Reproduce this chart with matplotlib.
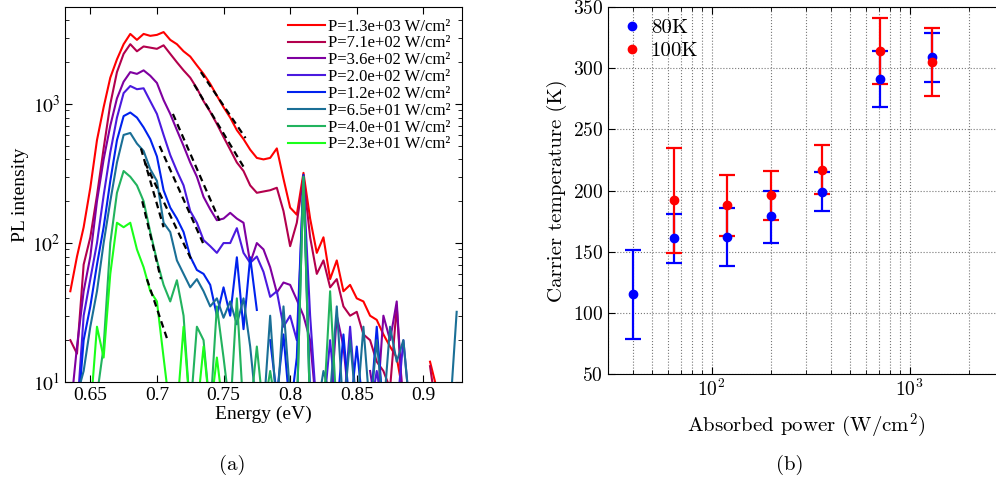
import numpy as np
import matplotlib.pyplot as plt
from matplotlib.ticker import NullFormatter, LogLocator
from matplotlib.lines import Line2D

plt.rcParams['axes.formatter.use_mathtext'] = True
plt.rcParams['mathtext.fontset'] = 'cm'

n = np.nan

# ---- (a) PL spectra ----
energy = [0.635, 0.640, 0.645, 0.650, 0.655, 0.660, 0.665, 0.670, 0.675, 0.680,
          0.685, 0.690, 0.695, 0.700, 0.705, 0.710, 0.715, 0.720, 0.725, 0.730,
          0.735, 0.740, 0.745, 0.750, 0.755, 0.760, 0.765, 0.770, 0.775, 0.780,
          0.785, 0.790, 0.795, 0.800, 0.805, 0.810, 0.815, 0.820, 0.825, 0.830,
          0.835, 0.840, 0.845, 0.850, 0.855, 0.860, 0.865, 0.870, 0.875, 0.880,
          0.885, 0.890, 0.895, 0.900, 0.905, 0.910, 0.915, 0.920, 0.925]

pl_1300 = [45, 80, 130, 250, 550, 950, 1550, 2100, 2700, 3200,
           2900, 3200, 3100, 3150, 3300, 2900, 2700, 2400, 2200, 1900,
           1650, 1400, 1150, 950, 800, 650, 560, 470, 410, 400,
           410, 480, 290, 180, 160, 320, 150, 85, 110, 55,
           75, 45, 50, 40, 38, 30, 28, 22, 18, 15,
           8, 6, n, n, 14, 9, n, n, n]
pl_710 = [20, 16, 70, 110, 220, 480, 1000, 1700, 2300, 2700,
          2400, 2600, 2550, 2500, 2650, 2300, 2000, 1750, 1550, 1300,
          1050, 880, 720, 580, 470, 380, 330, 260, 230, 235,
          240, 250, 170, 95, 140, 300, 110, 60, 75, 48,
          55, 35, 30, 32, 22, 20, 14, 12, 9, 35,
          6, n, n, n, 13, 6, n, n, n]
pl_360 = [6, 18, 45, 80, 200, 400, 700, 1100, 1450, 1700,
          1650, 1750, 1600, 1420, 1070, 850, 650, 500, 380, 300,
          215, 175, 146, 150, 165, 150, 140, 72, 100, 90,
          67, 44, 52, 50, 39, 30, 20, 6, 6, 6,
          30, 18, 6, 6, n, 12, 6, 30, 20, 38,
          6, n, n, n, n, n, n, n, n]
pl_200 = [n, 6, 30, 55, 100, 220, 450, 800, 1200, 1350,
          1280, 1300, 1050, 850, 600, 430, 330, 260, 170, 140,
          105, 95, 85, 100, 100, 128, 85, 72, 80, 62,
          41, 45, 25, 30, 20, 280, 30, 6, 6, 20,
          6, 6, 25, 6, 6, 6, 12, 6, 6, 6,
          20, 6, n, n, n, n, n, n, n]
pl_120 = [n, 5, 20, 35, 70, 130, 280, 550, 820, 870,
          800, 680, 560, 420, 240, 180, 150, 120, 80, 64,
          60, 50, 30, 48, 30, 79, 24, 79, 33, n,
          20, 8, 22, 6, 15, 310, 8, n, 20, n,
          6, 22, 6, 18, 6, 6, 25, 6, 6, 6,
          6, n, n, n, n, n, n, n, n]
pl_65 = [6, 8, 12, 25, 45, 100, 200, 380, 600, 620,
         520, 460, 340, 280, 140, 120, 75, 60, 48, 55,
         45, 35, 40, 29, 38, 26, 40, 18, 6, 6,
         30, 6, 35, 8, 6, 300, 6, 6, 12, 8,
         35, 6, 20, 6, 25, 6, 20, 6, 25, 14,
         20, 6, 6, n, n, n, n, 6, 32]
pl_40 = [n, n, n, 6, 8, 18, 100, 230, 330, 300,
         260, 200, 120, 75, 50, 38, 54, 30, 6, 25,
         20, 6, 35, 15, 6, 40, 6, 6, 18, 6,
         12, 6, 6, 6, 6, 300, 6, 6, 6, 45,
         6, n, n, n, n, n, n, n, n, n,
         n, n, n, n, n, n, n, n, n]
pl_23 = [n, n, n, 6, 25, 15, 60, 140, 130, 140,
         90, 67, 45, 38, 15, 6, 6, 25, 6, 6,
         18, 6, 15, 6, 6, 6, 6, n, n, n,
         n, n, n, n, n, n, n, n, n, n,
         n, n, n, n, n, n, n, n, n, n,
         n, n, n, n, n, n, n, n, n]

spectra = [pl_1300, pl_710, pl_360, pl_200, pl_120, pl_65, pl_40, pl_23]
power_labels = ['P=1.3e+03 W/cm²', 'P=7.1e+02 W/cm²', 'P=3.6e+02 W/cm²',
                'P=2.0e+02 W/cm²', 'P=1.2e+02 W/cm²', 'P=6.5e+01 W/cm²',
                'P=4.0e+01 W/cm²', 'P=2.3e+01 W/cm²']
colors = ['#ff0000', '#b3004d', '#7f00a0', '#4a1adf', '#0022ee',
          '#1a6f96', '#22b35e', '#1aff1a']

# Boltzmann fits: (E start, E end, I start, I end)
fit_e0 = [0.733, 0.728, 0.712, 0.702, 0.691, 0.688, 0.689, 0.6925]
fit_e1 = [0.7665, 0.7665, 0.747, 0.7346, 0.727, 0.705, 0.703, 0.708]
fit_i0 = [1700, 1380, 850, 500, 380, 480, 200, 55]
fit_i1 = [570, 335, 145, 100, 72, 130, 55, 20]

# ---- (b) carrier temperature ----
p80 = [40, 65, 120, 200, 360, 710, 1300]
t80 = [115, 161, 162, 179, 199, 291, 309]
t80_lo = [36, 20, 24, 22, 16, 23, 20]
t80_hi = [36, 20, 24, 21, 16, 23, 20]
p100 = [65, 120, 200, 360, 710, 1300]
t100 = [192, 188, 196, 217, 314, 305]
t100_lo = [43, 25, 20, 20, 27, 28]
t100_hi = [43, 25, 20, 20, 27, 28]

W, H = 996, 484
fig = plt.figure(figsize=(W / 100, H / 100), dpi=100)

serif = 'Liberation Serif'

ax1 = fig.add_axes([65 / W, (H - 382) / H, (462 - 65) / W, (382 - 7) / H])
for y, c, lab in zip(spectra, colors, power_labels):
    ax1.plot(energy, y, color=c, lw=1.5, label=lab)
for i in range(len(fit_e0)):
    ax1.plot([fit_e0[i], fit_e1[i]], [fit_i0[i], fit_i1[i]], 'k--', lw=1.6, dashes=(3, 2))
ax1.set_yscale('log')
ax1.set_xlim(0.631, 0.929)
ax1.set_ylim(10, 5000)
ax1.set_xticks([0.65, 0.7, 0.75, 0.8, 0.85, 0.9])
ax1.set_xticklabels(['0.65', '0.7', '0.75', '0.8', '0.85', '0.9'], fontfamily=serif, fontsize=14)
ax1.set_yticks([10, 100, 1000])
ax1.set_yticklabels(['$10^{1}$', '$10^{2}$', '$10^{3}$'], fontsize=14, math_fontfamily='stix')
ax1.yaxis.set_minor_locator(LogLocator(subs=np.arange(2, 10)))
ax1.yaxis.set_minor_formatter(NullFormatter())
ax1.tick_params(direction='in', which='both', top=True, right=True)
ax1.tick_params(which='major', length=5)
ax1.tick_params(which='minor', length=3)
ax1.set_xlabel('Energy (eV)', fontfamily=serif, fontsize=14, labelpad=1)
ax1.set_ylabel('PL intensity', fontfamily=serif, fontsize=14, labelpad=2)
ax1.legend(loc='upper right', frameon=False, prop={'family': serif, 'size': 12},
           handlelength=2.2, handletextpad=0.2, labelspacing=0.05,
           borderaxespad=0.3)
fig.text(232 / W, 1 - 465 / H, '(a)', fontfamily='cmr10', fontsize=15, ha='center', va='center')

# ---- (b) ----
ax2 = fig.add_axes([608 / W, (H - 374) / H, (1004 - 608) / W, (374 - 7) / H])
ax2.set_xscale('log')
ax2.errorbar(p80, t80, yerr=[t80_lo, t80_hi], fmt='o', color='#0000ff', ms=6,
             capsize=6, elinewidth=1.6, capthick=1.6)
ax2.errorbar(p100, t100, yerr=[t100_lo, t100_hi], fmt='o', color='#ff0000', ms=6,
             capsize=6, elinewidth=1.6, capthick=1.6)
ax2.set_xlim(30, 3000)
ax2.set_ylim(50, 350)
ax2.set_yticks([50, 100, 150, 200, 250, 300, 350])
ax2.grid(True, which='both', axis='x', linestyle=':', color='#777777', lw=0.8)
ax2.grid(True, which='major', axis='y', linestyle=':', color='#777777', lw=0.8)
ax2.tick_params(direction='in', which='both', top=True, right=True,
                labelsize=14, labelfontfamily='cmr10')
ax2.tick_params(which='major', length=5)
ax2.tick_params(which='minor', length=3)
ax2.set_xlabel('Absorbed power (W/cm$^2$)', fontfamily='cmr10', fontsize=15, labelpad=8)
ax2.set_ylabel('Carrier temperature (K)', fontfamily='cmr10', fontsize=15, labelpad=4)
handles = [Line2D([], [], ls='none', marker='o', ms=6, color='#0000ff'),
           Line2D([], [], ls='none', marker='o', ms=6, color='#ff0000')]
ax2.legend(handles, ['80K', '100K'], loc='upper left', frameon=False,
           prop={'family': 'cmr10', 'size': 15}, handletextpad=0.3,
           labelspacing=0.2, borderaxespad=0.15, handlelength=1.2)
fig.text(790 / W, 1 - 465 / H, '(b)', fontfamily='cmr10', fontsize=15, ha='center', va='center')

fig.savefig('out.png', dpi=100)
